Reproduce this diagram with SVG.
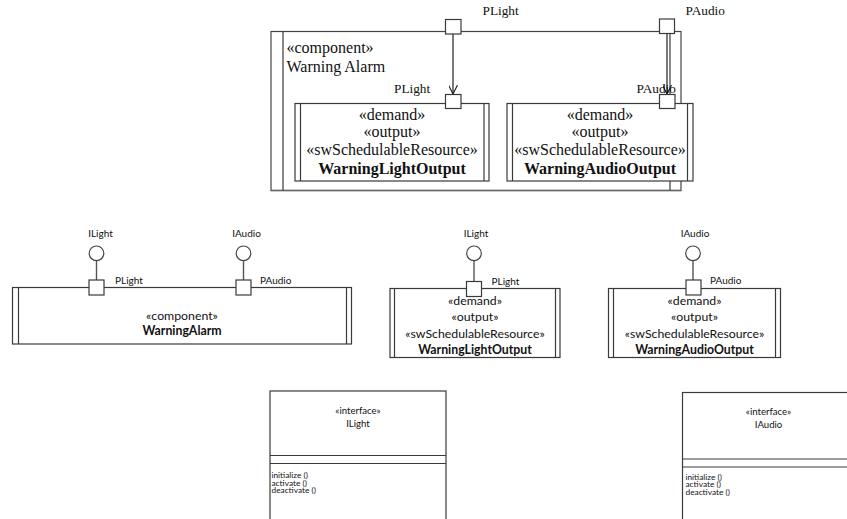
<svg xmlns="http://www.w3.org/2000/svg" width="847" height="519" viewBox="0 0 847 519">
  <defs>
    <style>
      .bg { fill: #ffffff; }
      .box { fill: #ffffff; stroke: #3a3a3a; stroke-width: 1.2; }
      .edge { fill: none; stroke: #3a3a3a; stroke-width: 1.2; }
      .port { fill: #ffffff; stroke: #3a3a3a; stroke-width: 1.2; }
      .ball { fill: #ffffff; stroke: #444444; stroke-width: 1.2; }
      .wire { fill: none; stroke: #222222; stroke-width: 1.2; }
      .stem { fill: none; stroke: #555555; stroke-width: 1.4; }
      .serif { font-family: "Liberation Serif", "Times New Roman", serif; fill: #111111; }
      .sans { font-family: Lato, "Open Sans", sans-serif; fill: #111111; }
      .s16 { font-size: 16px; }
      .s13 { font-size: 13.3px; }
      .s12 { font-size: 12.3px; }
      .s10 { font-size: 10px; }
      .s95 { font-size: 9.6px; }
      .s85 { font-size: 8.3px; }
      .b { font-weight: bold; }
      .mid { text-anchor: middle; }
    </style>
    <!-- open "V" arrowhead, tip at the line end -->
    <marker id="open-arrow" viewBox="0 0 10 10" refX="10" refY="5" markerWidth="9" markerHeight="9" markerUnits="userSpaceOnUse" orient="auto">
      <path d="M0,0 L10,5 L0,10" fill="none" stroke="#222222" stroke-width="1.3"/>
    </marker>
  </defs>

  <rect class="bg" x="0" y="0" width="847" height="519"/>

  <!-- ===== Internal structure: Warning Alarm component ===== -->
  <g id="warning-alarm-composite">
    <rect class="box" x="271" y="31.5" width="410" height="159" style="stroke:#444"/>
    <line class="edge" x1="271" y1="190.5" x2="681" y2="190.5" style="stroke:#666;stroke-width:1.6"/>
    <line class="edge" x1="283" y1="31.5" x2="283" y2="190.5"/>
    <line class="edge" x1="670" y1="31.5" x2="670" y2="190.5"/>
    <text class="serif s16" x="286.5" y="53">«component»</text>
    <text class="serif s16" x="286.5" y="72">Warning Alarm</text>
  </g>

  <g id="part-warning-light-output">
    <rect class="box" x="295" y="103.5" width="194" height="77.5"/>
    <line class="edge" x1="300.5" y1="103.5" x2="300.5" y2="181"/>
    <line class="edge" x1="484" y1="103.5" x2="484" y2="181"/>
    <text class="serif s16 mid" x="392" y="120">«demand»</text>
    <text class="serif s16 mid" x="392" y="137">«output»</text>
    <text class="serif s16 mid" x="392" y="155">«swSchedulableResource»</text>
    <text class="serif s16 mid b" x="392" y="174">WarningLightOutput</text>
  </g>

  <g id="part-warning-audio-output">
    <rect class="box" x="507" y="103.5" width="186" height="77.5"/>
    <line class="edge" x1="512.5" y1="103.5" x2="512.5" y2="181"/>
    <line class="edge" x1="687.5" y1="103.5" x2="687.5" y2="181"/>
    <text class="serif s16 mid" x="600" y="120">«demand»</text>
    <text class="serif s16 mid" x="600" y="137">«output»</text>
    <text class="serif s16 mid" x="600" y="155">«swSchedulableResource»</text>
    <text class="serif s16 mid b" x="600" y="174">WarningAudioOutput</text>
  </g>

  <!-- delegation connectors and interface stems -->
  <g id="connectors">
    <line class="wire" x1="453" y1="34" x2="453" y2="94" marker-end="url(#open-arrow)"/>
    <line class="wire" x1="667" y1="33.5" x2="667" y2="94" marker-end="url(#open-arrow)"/>
    <line class="stem" x1="96.5" y1="260.5" x2="96.5" y2="280"/>
    <line class="stem" x1="243.5" y1="260.5" x2="243.5" y2="280"/>
    <line class="stem" x1="474" y1="260.5" x2="474" y2="281.5"/>
    <line class="stem" x1="693" y1="260.5" x2="693" y2="280"/>
  </g>

  <!-- ports of the internal structure -->
  <g id="port-plight-outer">
    <rect class="port" x="445.5" y="19.5" width="15.5" height="14.5"/>
    <text class="serif s13" x="482.5" y="15">PLight</text>
  </g>
  <g id="port-paudio-outer">
    <rect class="port" x="659.5" y="19" width="15" height="14.5"/>
    <text class="serif s13" x="685.5" y="15">PAudio</text>
  </g>
  <g id="port-plight-inner">
    <rect class="port" x="445.5" y="94.5" width="15.5" height="14"/>
    <text class="serif s13" x="394" y="92.5">PLight</text>
  </g>
  <g id="port-paudio-inner">
    <rect class="port" x="659.5" y="94.5" width="15.5" height="14"/>
    <text class="serif s13" x="636.5" y="92.5">PAudio</text>
  </g>

  <!-- ===== Black-box views ===== -->
  <g id="component-warning-alarm">
    <rect class="box" x="12.5" y="287.5" width="339" height="56.5"/>
    <line class="edge" x1="18.5" y1="287.5" x2="18.5" y2="344"/>
    <line class="edge" x1="346.5" y1="287.5" x2="346.5" y2="344"/>
    <text class="sans s12 mid" x="182" y="320">«component»</text>
    <text class="sans s12 mid b" x="182" y="335">WarningAlarm</text>
    <rect class="port" x="89" y="280" width="15" height="15"/>
    <text class="sans s10" x="115" y="283.5">PLight</text>
    <rect class="port" x="236" y="280" width="15" height="15"/>
    <text class="sans s10" x="260" y="283.5">PAudio</text>
    <circle class="ball" cx="96.5" cy="253.3" r="7.3"/>
    <text class="sans s10 mid" x="100.5" y="236.5">ILight</text>
    <circle class="ball" cx="243.5" cy="253.3" r="7.3"/>
    <text class="sans s10 mid" x="246.5" y="236.5">IAudio</text>
  </g>

  <g id="component-warning-light-output">
    <rect class="box" x="390" y="288.5" width="170" height="69"/>
    <line class="edge" x1="394.5" y1="288.5" x2="394.5" y2="357.5"/>
    <line class="edge" x1="555.5" y1="288.5" x2="555.5" y2="357.5"/>
    <text class="sans s12 mid" x="475" y="305">«demand»</text>
    <text class="sans s12 mid" x="475" y="321">«output»</text>
    <text class="sans s12 mid" x="475" y="337.5">«swSchedulableResource»</text>
    <text class="sans s12 mid b" x="475" y="354">WarningLightOutput</text>
    <rect class="port" x="466.5" y="281.5" width="15" height="15"/>
    <text class="sans s10" x="491.5" y="285">PLight</text>
    <circle class="ball" cx="474" cy="253.3" r="7.3"/>
    <text class="sans s10 mid" x="476" y="236.5">ILight</text>
  </g>

  <g id="component-warning-audio-output">
    <rect class="box" x="608.5" y="288.5" width="172" height="69"/>
    <line class="edge" x1="613.5" y1="288.5" x2="613.5" y2="357.5"/>
    <line class="edge" x1="775.5" y1="288.5" x2="775.5" y2="357.5"/>
    <text class="sans s12 mid" x="694.5" y="305">«demand»</text>
    <text class="sans s12 mid" x="694.5" y="321">«output»</text>
    <text class="sans s12 mid" x="694.5" y="337.5">«swSchedulableResource»</text>
    <text class="sans s12 mid b" x="694.5" y="354">WarningAudioOutput</text>
    <rect class="port" x="686" y="280" width="15" height="15"/>
    <text class="sans s10" x="710" y="284">PAudio</text>
    <circle class="ball" cx="693" cy="253.3" r="7.3"/>
    <text class="sans s10 mid" x="695" y="236.5">IAudio</text>
  </g>

  <!-- ===== Interfaces ===== -->
  <g id="interface-ilight">
    <rect class="box" x="270" y="391" width="176" height="140"/>
    <line class="edge" x1="270" y1="455.5" x2="446" y2="455.5"/>
    <line class="edge" x1="270" y1="463.5" x2="446" y2="463.5"/>
    <text class="sans s95 mid" x="358" y="414">«interface»</text>
    <text class="sans s95 mid" x="358" y="426.5">ILight</text>
    <text class="sans s85" x="271.5" y="478">initialize ()</text>
    <text class="sans s85" x="271.5" y="485.5">activate ()</text>
    <text class="sans s85" x="271.5" y="493">deactivate ()</text>
  </g>

  <g id="interface-iaudio">
    <rect class="box" x="682.5" y="392.5" width="172" height="140"/>
    <line class="edge" x1="682.5" y1="459" x2="854.5" y2="459"/>
    <line class="edge" x1="682.5" y1="467" x2="854.5" y2="467"/>
    <text class="sans s95 mid" x="768.5" y="415">«interface»</text>
    <text class="sans s95 mid" x="768.5" y="427.5">IAudio</text>
    <text class="sans s85" x="685.5" y="479.5">initialize ()</text>
    <text class="sans s85" x="685.5" y="487">activate ()</text>
    <text class="sans s85" x="685.5" y="494.5">deactivate ()</text>
  </g>
</svg>
